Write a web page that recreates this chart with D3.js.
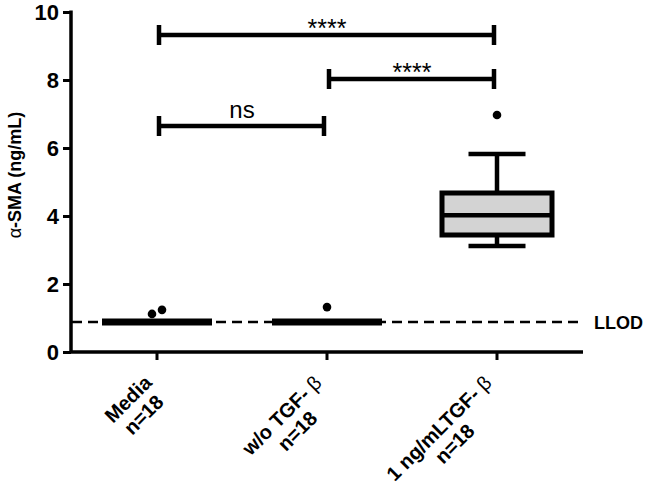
<!DOCTYPE html>
<html>
<head>
<meta charset="utf-8">
<script src="https://cdn.jsdelivr.net/npm/d3@7"></script>
<style>
  body { margin: 0; background: #fff; }
  svg { display: block; font-family: Arial, "Liberation Sans", sans-serif; }
</style>
</head>
<body>
<div id="chart"></div>
<script>
'use strict';

// ── Data ──
var groups = ['Media', 'w/o TGF-b', '1 ng/mL TGF-b'];
var labelLines = [
    [['Media', 'b']],
    [['w/o TGF- ', 'b'], ['\u03b2', 'n']],
    [['1 ng/mLTGF- ', 'b'], ['\u03b2', 'n']]
];
var nLabels = ['n=18', 'n=18', 'n=18'];
// [lower whisker, q1, median, q3, upper whisker]
var boxStats = [
    [0.88, 0.88, 0.88, 0.88, 0.88],
    [0.88, 0.88, 0.88, 0.88, 0.88],
    [3.12, 3.44, 4.02, 4.68, 5.82]
];
var outliers = [[1.12, 1.24], [1.32], [6.97]];
var yTicks = [0, 2, 4, 6, 8, 10];
var llod = 0.88;
// [from group, to group, height, label]
var comparisons = [
    [0, 2, 9.32, '****'],
    [1, 2, 8.03, '****'],
    [0, 1, 6.65, 'ns']
];

var W = 650, H = 483;
var svg = d3.select('#chart').append('svg').attr('width', W).attr('height', H);

var y = d3.scaleLinear().domain([0, 10]).range([352, 12]);
var x = d3.scaleBand().domain(groups).range([72, 582]).padding(0);
var cx = function(i) { return x(groups[i]) + x.bandwidth() / 2; };

var boxW = 110, capW = 57;

// ── LLOD line ──
svg.append('line')
    .attr('x1', 72).attr('x2', 582)
    .attr('y1', y(llod)).attr('y2', y(llod))
    .style('stroke', '#000').style('stroke-width', 2.5)
    .style('stroke-dasharray', '10,6');
svg.append('text')
    .attr('x', 594).attr('y', y(llod) + 6.5)
    .style('font-size', '18px').style('font-weight', 'bold')
    .text('LLOD');

// ── Boxes ──
var box = svg.selectAll('.box').data(boxStats).enter().append('g').attr('class', 'box');

box.append('line')
    .attr('x1', function(d, i) { return cx(i); }).attr('x2', function(d, i) { return cx(i); })
    .attr('y1', function(d) { return y(d[4]); }).attr('y2', function(d) { return y(d[0]); })
    .style('stroke', '#000').style('stroke-width', 4.5);

box.selectAll('.cap')
    .data(function(d, i) { return [{v: d[0], i: i}, {v: d[4], i: i}]; }).enter()
    .append('line').attr('class', 'cap')
    .attr('x1', function(d) { return cx(d.i) - capW / 2; }).attr('x2', function(d) { return cx(d.i) + capW / 2; })
    .attr('y1', function(d) { return y(d.v); }).attr('y2', function(d) { return y(d.v); })
    .style('stroke', '#000').style('stroke-width', 4.5);

box.append('path')
    .attr('d', function(d, i) {
        var x0 = cx(i) - boxW / 2, x1 = cx(i) + boxW / 2;
        return 'M' + x0 + ',' + y(d[3]) + 'H' + x1 + 'V' + y(d[1]) + 'H' + x0 + 'Z';
    })
    .style('fill', '#d3d3d3').style('stroke', '#000').style('stroke-width', 5)
    .style('stroke-linejoin', 'miter');

box.append('line')
    .attr('x1', function(d, i) { return cx(i) - boxW / 2; }).attr('x2', function(d, i) { return cx(i) + boxW / 2; })
    .attr('y1', function(d) { return y(d[2]); }).attr('y2', function(d) { return y(d[2]); })
    .style('stroke', '#000').style('stroke-width', function(d) { return d[1] === d[3] ? 7 : 4.5; });

// ── Outliers ──
outliers.forEach(function(pts, i) {
    svg.selectAll('.pt' + i).data(pts).enter().append('circle')
        .attr('cx', function(d, j) { return cx(i) + (j - (pts.length - 1) / 2) * 10; })
        .attr('cy', function(d) { return y(d); })
        .attr('r', 4.3).style('fill', '#000');
});

// ── Axes ──
var yAxis = svg.append('g').attr('transform', 'translate(71,0)')
    .call(d3.axisLeft(y).tickValues(yTicks).tickSize(8).tickSizeOuter(0).tickPadding(4));
var xAxis = svg.append('g').attr('transform', 'translate(0,352)')
    .call(d3.axisBottom(x).tickSize(8).tickSizeOuter(0).tickFormat(''));
[yAxis, xAxis].forEach(function(a) {
    a.select('.domain').style('stroke-width', 3.5);
    a.selectAll('.tick line').style('stroke-width', 3);
});
xAxis.select('.domain').attr('d', 'M70,0H583');
yAxis.select('.domain').attr('d', 'M0,10.5V352');
yAxis.selectAll('.tick text')
    .style('font-size', '22px').style('font-weight', 'bold')
    .style('font-family', 'Arial, "Liberation Sans", sans-serif').attr('dy', '0.36em');

var yl = svg.append('text')
    .attr('transform', 'translate(21,175) rotate(-90)')
    .attr('text-anchor', 'middle')
    .style('font-size', '18px').style('font-weight', 'bold');
yl.append('tspan').style('font-weight', 'normal').text('\u03b1');
yl.append('tspan').text('-SMA (ng/mL)');

// ── Category labels (rotated, two centred lines) ──
groups.forEach(function(gname, i) {
    var lg = svg.append('g')
        .attr('transform', 'translate(' + (cx(i) - 4) + ',384) rotate(-45)')
        .style('font-size', '20px');
    var t1 = lg.append('text').attr('text-anchor', 'end');
    labelLines[i].forEach(function(p) {
        t1.append('tspan').style('font-weight', p[1] === 'b' ? 'bold' : 'normal').text(p[0]);
    });
    var t2 = lg.append('text').attr('text-anchor', 'end').attr('y', 22)
        .style('font-weight', 'bold').text(nLabels[i]);
    var w1 = t1.node().getComputedTextLength(), w2 = t2.node().getComputedTextLength();
    var mw = Math.max(w1, w2);
    t1.attr('x', -(mw - w1) / 2);
    t2.attr('x', -(mw - w2) / 2);
});

// ── Significance bars ──
var sig = svg.selectAll('.sig').data(comparisons).enter().append('g').attr('class', 'sig');
sig.append('path')
    .attr('d', function(d) {
        var x0 = cx(d[0]) + 2, x1 = cx(d[1]) - 3, yy = y(d[2]);
        return 'M' + x0 + ',' + yy + 'H' + x1 +
            'M' + x0 + ',' + (yy - 10) + 'V' + (yy + 10) +
            'M' + x1 + ',' + (yy - 10) + 'V' + (yy + 10);
    })
    .style('fill', 'none').style('stroke', '#000').style('stroke-width', 4.5);
sig.append('text')
    .attr('x', function(d) { return (cx(d[0]) + cx(d[1])) / 2; })
    .attr('y', function(d) { return d[3] === 'ns' ? y(d[2]) - 8 : y(d[2]) + 2; })
    .attr('text-anchor', 'middle')
    .style('font-size', function(d) { return d[3] === 'ns' ? '24px' : '25px'; })
    .text(function(d) { return d[3]; });
</script>
</body>
</html>
